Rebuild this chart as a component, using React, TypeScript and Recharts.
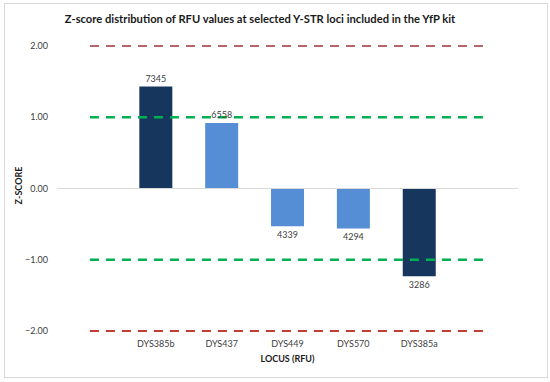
import React from "react";
import {
  ComposedChart, Bar, Line, Cell, XAxis, YAxis, ReferenceLine, LabelList,
} from "recharts";

// padded with an empty category on each side, like the Excel original
const loci = ["", "DYS385b", "DYS437", "DYS449", "DYS570", "DYS385a", " "];
const zScores = [null, 1.43, 0.92, -0.53, -0.56, -1.23, null];
const rfuValues = [null, 7345, 6558, 4339, 4294, 3286, null];
const highlighted = [false, true, false, false, false, true, false];
const plus2 = [2, 2, 2, 2, 2, 2, 2];
const plus1 = [1, 1, 1, 1, 1, 1, 1];
const minus1 = [-1, -1, -1, -1, -1, -1, -1];
const minus2 = [-2, -2, -2, -2, -2, -2, -2];
const yTicks = [-2, -1, 0, 1, 2];

const data = loci.map((locus, i) => ({
  locus,
  z: zScores[i],
  rfu: rfuValues[i],
  plus2: plus2[i],
  plus1: plus1[i],
  minus1: minus1[i],
  minus2: minus2[i],
}));

const FONT = "Lato, 'Open Sans', sans-serif";
const DARK = "#17365d";
const LIGHT = "#558ed5";

const fmt = (v: number) => (v < 0 ? "\u2212" + Math.abs(v).toFixed(2) : v.toFixed(2));

export default function App() {
  return (
    <div style={{ position: "absolute", left: 0, top: 0, width: 550, height: 382, background: "#fff", fontFamily: FONT }}>
      <div
        style={{
          position: "absolute", left: 4, top: 3, width: 544, height: 375,
          border: "1px solid #d9d9d9", boxSizing: "border-box",
        }}
      />
      <div
        style={{
          position: "absolute", left: 0, top: 12, width: 520, textAlign: "center",
          fontWeight: 700, fontSize: 11.2, color: "#1a1a1a",
        }}
      >
        Z-score distribution of RFU values at selected Y-STR loci included in the YfP kit
      </div>
      <ComposedChart
        width={550}
        height={382}
        data={data}
        margin={{ top: 46, right: 32, left: 0, bottom: 11 }}
        barCategoryGap="25%"
        style={{ position: "absolute", left: 0, top: 0 }}
      >
        <XAxis
          dataKey="locus"
          axisLine={false}
          tickLine={false}
          tickSize={0}
          tickMargin={10}
          height={40}
          interval={0}
          tick={{ fill: "#404040", fontSize: 9, fontFamily: FONT }}
          label={{
            value: "LOCUS (RFU)", position: "insideBottom", offset: 9,
            fill: "#1a1a1a", fontSize: 9, fontWeight: 700, fontFamily: FONT,
          }}
        />
        <YAxis
          domain={[-2, 2]}
          ticks={yTicks}
          width={57}
          axisLine={false}
          tickLine={false}
          tickSize={0}
          tickMargin={9}
          tickFormatter={fmt}
          tick={{ fill: "#404040", fontSize: 9, fontFamily: FONT }}
          label={{
            content: ({ viewBox }: any) => {
              const cx = viewBox.x + 18;
              const cy = viewBox.y + viewBox.height / 2 - 3;
              return (
                <text
                  x={cx} y={cy} transform={`rotate(-90 ${cx} ${cy})`}
                  textAnchor="middle" dominantBaseline="central"
                  fill="#1a1a1a" fontSize={9} fontWeight={700} fontFamily={FONT}
                >
                  Z-SCORE
                </text>
              );
            },
          }}
        />
        <ReferenceLine y={0} stroke="#d9d9d9" strokeWidth={1} />
        <Bar dataKey="z" isAnimationActive={false}>
          {data.map((d, i) => (
            <Cell key={i} fill={highlighted[i] ? DARK : LIGHT} />
          ))}
          <LabelList dataKey="rfu" position="top" offset={5} fill="#404040" fontSize={9} fontFamily={FONT} />
        </Bar>
        <Line dataKey="plus2" stroke="#b3676b" strokeWidth={2} strokeDasharray="9 7" dot={false} activeDot={false} isAnimationActive={false} />
        <Line dataKey="plus1" stroke="#00b050" strokeWidth={2.5} strokeDasharray="9 7" dot={false} activeDot={false} isAnimationActive={false} />
        <Line dataKey="minus1" stroke="#00b050" strokeWidth={2.5} strokeDasharray="9 7" dot={false} activeDot={false} isAnimationActive={false} />
        <Line dataKey="minus2" stroke="#c43a34" strokeWidth={2} strokeDasharray="9 7" dot={false} activeDot={false} isAnimationActive={false} />
      </ComposedChart>
    </div>
  );
}
